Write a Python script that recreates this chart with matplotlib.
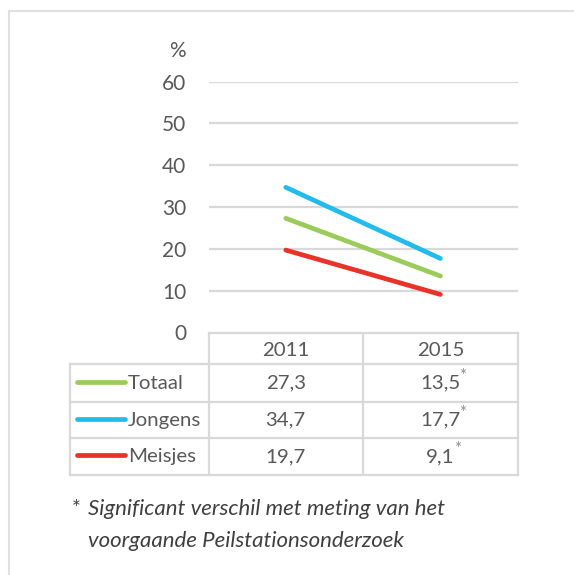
import matplotlib
matplotlib.use("Agg")
import matplotlib.pyplot as plt

plt.rcParams['font.family'] = ['Lato', 'DejaVu Sans']

years = ["2011", "2015"]
series_names = ["Totaal", "Jongens", "Meisjes"]
totaal = [27.3, 13.5]
jongens = [34.7, 17.7]
meisjes = [19.7, 9.1]
significant_2015 = [True, True, True]
yticks = [0, 10, 20, 30, 40, 50, 60]
colors = ["#9BCB5B", "#22BBEC", "#E8332A"]
footnote = ["*", "Significant verschil met meting van het", "voorgaande Peilstationsonderzoek"]

W, H = 574, 575
fig = plt.figure(figsize=(W / 100, H / 100), dpi=100)

ov = fig.add_axes([0, 0, 1, 1])
ov.set_xlim(0, W)
ov.set_ylim(H, 0)
ov.axis('off')

grid_c = "#D9D9D9"
text_c = "#595959"

x0, x1 = 208.5, 517.7
ytop, ybot = 81.5, 332.5
ax = fig.add_axes([x0 / W, 1 - ybot / H, (x1 - x0) / W, (ybot - ytop) / H])
ax.set_xlim(-0.5, 1.5)
ax.set_ylim(0, 60)
for s in ax.spines.values():
    s.set_visible(False)
ax.set_xticks([])
ax.set_yticks(yticks)
ax.set_yticklabels([str(v) for v in yticks], fontsize=15, color=text_c)
ax.tick_params(axis='y', length=0, pad=16)
for v in yticks[1:]:
    ax.axhline(v, color=grid_c, lw=1.6, zorder=1)
ax.patch.set_alpha(0)

xs = list(range(len(years)))
for vals, c in zip([totaal, jongens, meisjes], colors):
    ax.plot(xs, vals, color=c, lw=3.4, solid_capstyle='round', zorder=3)

ov.text(186, 51, "%", ha='right', va='center', fontsize=15, color=text_c)

# outer frame (top and left)
ov.plot([8.5, 8.5], [10.5, H], color="#E0E0E0", lw=1.5)
ov.plot([8.5, W], [10.5, 10.5], color="#E0E0E0", lw=1.5)

col_x = [70.3, 208.5, 363.0, 517.7]
row_y = [332.5, 364.3, 402.0, 438.3, 474.5]
lw_t = 1.6
ov.plot([col_x[1], col_x[3]], [row_y[0], row_y[0]], color=grid_c, lw=lw_t)
for y in row_y[1:]:
    ov.plot([col_x[0], col_x[3]], [y, y], color=grid_c, lw=lw_t)
ov.plot([col_x[0], col_x[0]], [row_y[1], row_y[-1]], color=grid_c, lw=lw_t)
for x in col_x[1:]:
    ov.plot([x, x], [row_y[0], row_y[-1]], color=grid_c, lw=lw_t)

fs = 14.7
for j, yr in enumerate(years):
    cx = (col_x[j + 1] + col_x[j + 2]) / 2
    ov.text(cx, (row_y[0] + row_y[1]) / 2 + 2, yr, ha='center', va='center',
            fontsize=fs, color=text_c)

fig.canvas.draw()
all_vals = [totaal, jongens, meisjes]
for i, (name, vals, c) in enumerate(zip(series_names, all_vals, colors)):
    cy = (row_y[i + 1] + row_y[i + 2]) / 2
    ov.plot([77, 125], [cy - 1, cy - 1], color=c, lw=3.4, solid_capstyle='round')
    ov.text(128, cy, name, ha='left', va='center', fontsize=fs, color=text_c)
    for j, v in enumerate(vals):
        cx = (col_x[j + 1] + col_x[j + 2]) / 2
        lbl = f"{v:.1f}".replace('.', ',')
        t = ov.text(cx, cy, lbl, ha='center', va='center', fontsize=fs, color=text_c)
        if j == 1 and significant_2015[i]:
            bb = t.get_window_extent(renderer=fig.canvas.get_renderer())
            ov.text(bb.x1 * 100 / fig.dpi - 1, cy - 7, "*", ha='left', va='center',
                    fontsize=12, color="#8C8C8C")

fn_c = "#404040"
ov.text(72, 509, footnote[0], ha='left', va='center', fontsize=15, color=fn_c)
ov.text(88, 509, footnote[1], ha='left', va='center', fontsize=16,
        color=fn_c, style='italic')
ov.text(88, 541, footnote[2], ha='left', va='center', fontsize=16,
        color=fn_c, style='italic')

fig.savefig("out.png", dpi=100)
